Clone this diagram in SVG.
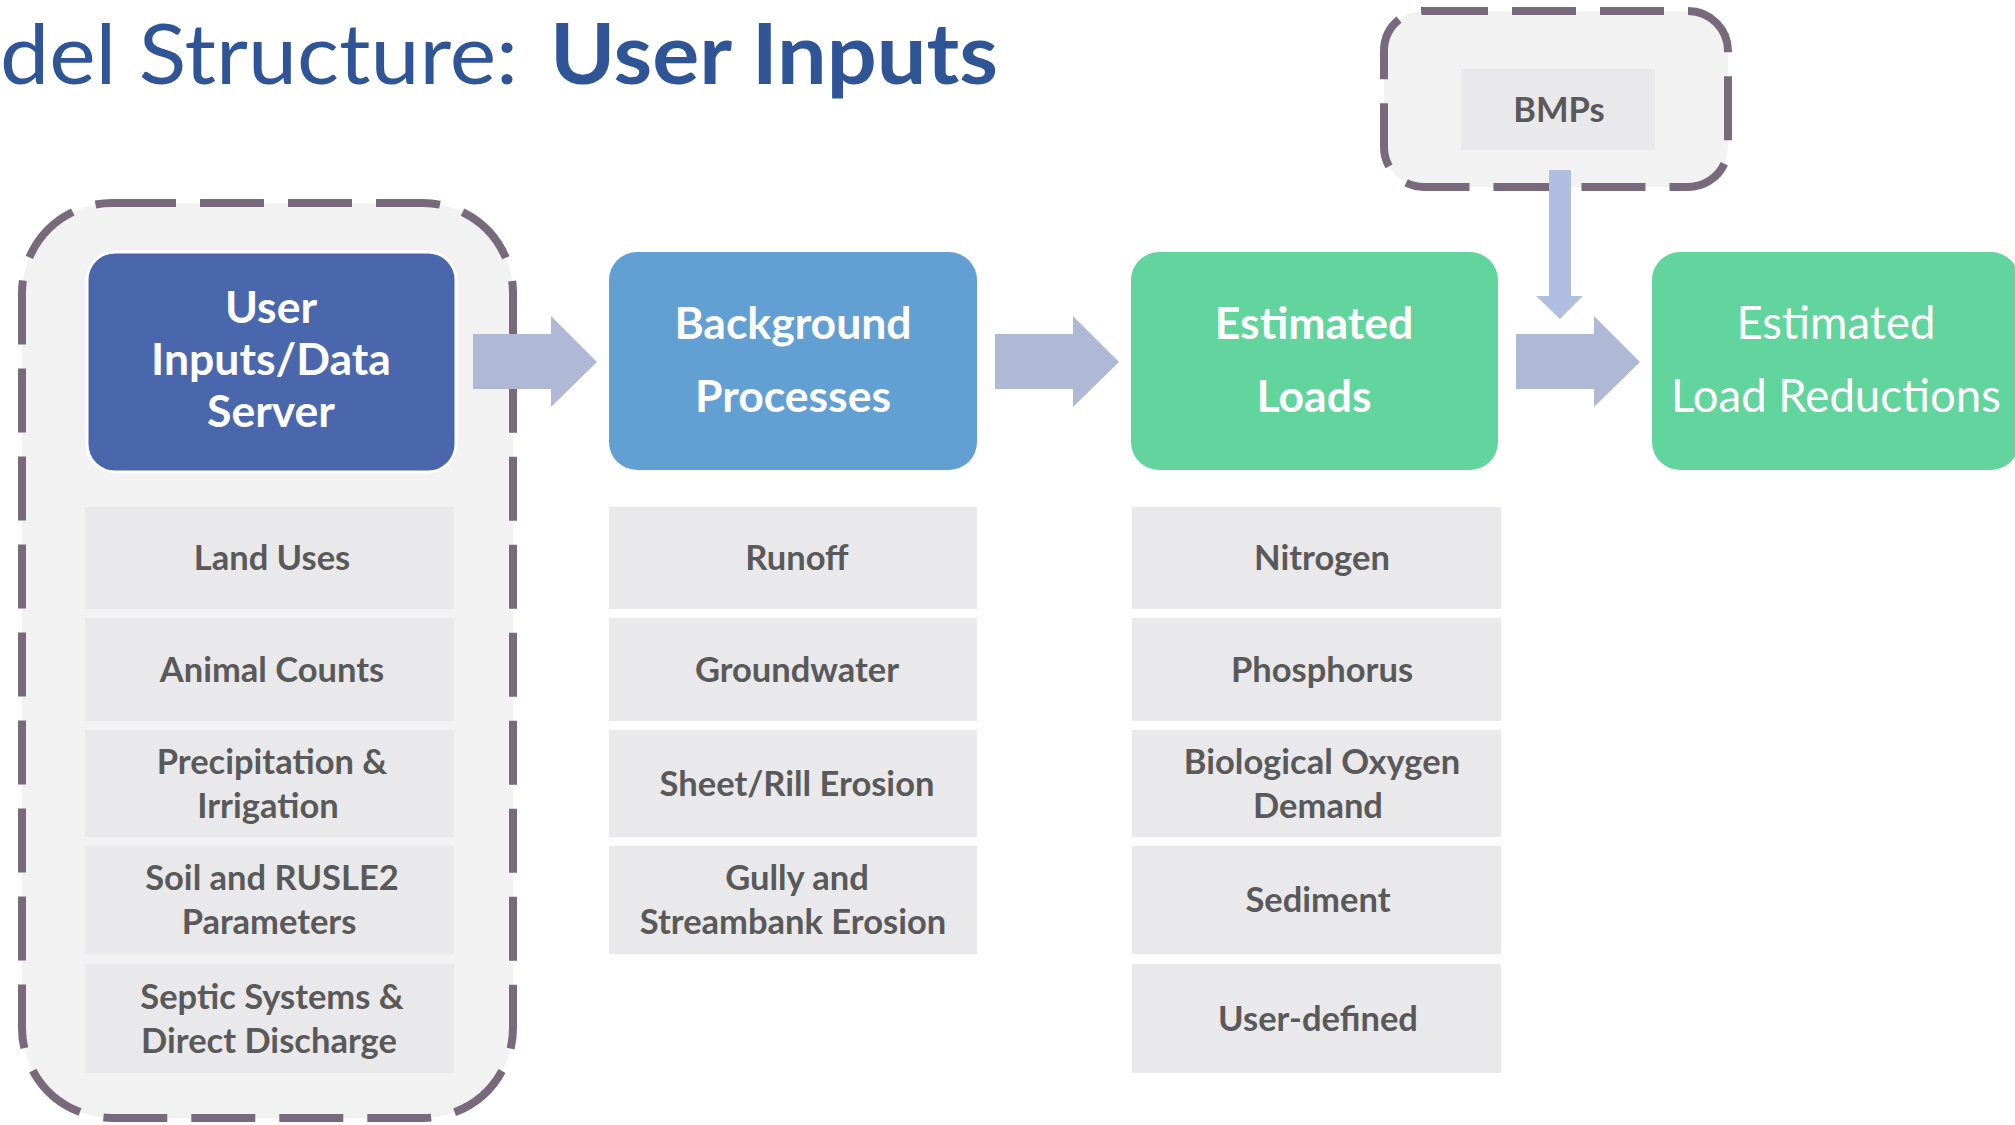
<svg xmlns="http://www.w3.org/2000/svg" width="2015" height="1125" viewBox="0 0 2015 1125">
  <style>
    text { font-family: Lato, "Open Sans", sans-serif; }
    .title { fill: #2F5597; font-size: 84px; }
    .hdr { fill: #FFFFFF; font-weight: 700; font-size: 44.5px; text-anchor: middle; }
    .hdr-reg { fill: #FFFFFF; font-weight: 400; font-size: 45.5px; text-anchor: middle; }
    .item rect { fill: #E9E8EB; }
    .item text { fill: #595959; font-weight: 700; font-size: 34.5px; text-anchor: middle; }
    .dashed { fill: #F2F2F2; stroke: #786A7C; stroke-width: 8; stroke-dasharray: 64 24; }
    .flow { fill: #AFB8D5; }
    .drop { fill: #B0BFE1; }
  </style>

  <!-- heading -->
  <g id="title">
    <text class="title" x="0" y="84" textLength="518" lengthAdjust="spacingAndGlyphs">del Structure:</text>
    <text class="title" x="550" y="84" font-weight="700" textLength="448" lengthAdjust="spacingAndGlyphs">User Inputs</text>
  </g>

  <!-- dashed grouping frames -->
  <g id="inputs-frame">
    <rect class="dashed" x="22" y="203" width="491" height="915" rx="90" ry="90"/>
  </g>
  <g id="bmp-frame">
    <rect class="dashed" x="1384" y="11" width="344" height="176" rx="40" ry="40"/>
  </g>

  <!-- stage headers -->
  <g id="user-inputs">
    <rect x="87" y="252" width="369" height="220" rx="28" fill="#4A66AC" stroke="#FFFFFF" stroke-width="3"/>
    <text class="hdr" x="271" y="323">User</text>
    <text class="hdr" x="271" y="375">Inputs/Data</text>
    <text class="hdr" x="271" y="427">Server</text>
  </g>
  <g id="background-processes">
    <rect x="609" y="252" width="368" height="218" rx="28" fill="#629FD3"/>
    <text class="hdr" x="793" y="339">Background</text>
    <text class="hdr" x="793" y="412">Processes</text>
  </g>
  <g id="estimated-loads">
    <rect x="1131" y="252" width="367" height="218" rx="28" fill="#62D49D"/>
    <text class="hdr" x="1314" y="339">Estimated</text>
    <text class="hdr" x="1314" y="412">Loads</text>
  </g>
  <g id="estimated-load-reductions">
    <rect x="1652" y="252" width="367" height="218" rx="28" fill="#62D49D"/>
    <text class="hdr-reg" x="1836" y="339">Estimated</text>
    <text class="hdr-reg" x="1836" y="412">Load Reductions</text>
  </g>
  <g id="bmps" class="item">
    <rect x="1461" y="69" width="194" height="81"/>
    <text x="1559" y="122" font-size="36">BMPs</text>
  </g>

  <!-- input items -->
  <g id="land-uses" class="item">
    <rect x="85" y="507" width="369" height="102"/>
    <text x="272" y="570">Land Uses</text>
  </g>
  <g id="animal-counts" class="item">
    <rect x="85" y="618" width="369" height="103"/>
    <text x="272" y="682">Animal Counts</text>
  </g>
  <g id="precipitation" class="item">
    <rect x="85" y="730" width="369" height="107"/>
    <text x="272" y="774">Precipitation &amp;</text>
    <text x="268" y="818">Irrigation</text>
  </g>
  <g id="soil-rusle2" class="item">
    <rect x="85" y="846" width="369" height="108"/>
    <text x="272" y="890">Soil and RUSLE2</text>
    <text x="269" y="934">Parameters</text>
  </g>
  <g id="septic" class="item">
    <rect x="85" y="964" width="369" height="109"/>
    <text x="272" y="1009">Septic Systems &amp;</text>
    <text x="269" y="1053">Direct Discharge</text>
  </g>

  <!-- process items -->
  <g id="runoff" class="item">
    <rect x="609" y="507" width="368" height="102"/>
    <text x="797" y="570">Runoff</text>
  </g>
  <g id="groundwater" class="item">
    <rect x="609" y="618" width="368" height="103"/>
    <text x="797" y="682">Groundwater</text>
  </g>
  <g id="sheet-rill" class="item">
    <rect x="609" y="730" width="368" height="107"/>
    <text x="797" y="796">Sheet/Rill Erosion</text>
  </g>
  <g id="gully-streambank" class="item">
    <rect x="609" y="846" width="368" height="108"/>
    <text x="797" y="890">Gully and</text>
    <text x="793" y="934">Streambank Erosion</text>
  </g>

  <!-- load items -->
  <g id="nitrogen" class="item">
    <rect x="1132" y="507" width="369" height="102"/>
    <text x="1322" y="570">Nitrogen</text>
  </g>
  <g id="phosphorus" class="item">
    <rect x="1132" y="618" width="369" height="103"/>
    <text x="1322" y="682">Phosphorus</text>
  </g>
  <g id="bod" class="item">
    <rect x="1132" y="730" width="369" height="107"/>
    <text x="1322" y="774">Biological Oxygen</text>
    <text x="1318" y="818">Demand</text>
  </g>
  <g id="sediment" class="item">
    <rect x="1132" y="846" width="369" height="108"/>
    <text x="1318" y="912">Sediment</text>
  </g>
  <g id="user-defined" class="item">
    <rect x="1132" y="964" width="369" height="109"/>
    <text x="1318" y="1031">User-defined</text>
  </g>

  <!-- block arrows between stages -->
  <g id="connectors">
    <polygon class="flow" points="473,334 551,334 551,316 597,362 551,407 551,389 473,389"/>
    <polygon class="flow" points="995,334 1073,334 1073,316 1119,362 1073,407 1073,389 995,389"/>
    <polygon class="flow" points="1516,334 1594,334 1594,316 1640,362 1594,407 1594,389 1516,389"/>
    <polygon class="drop" points="1549,170 1571,170 1571,296 1583,296 1560,319 1536,296 1549,296"/>
  </g>
</svg>
